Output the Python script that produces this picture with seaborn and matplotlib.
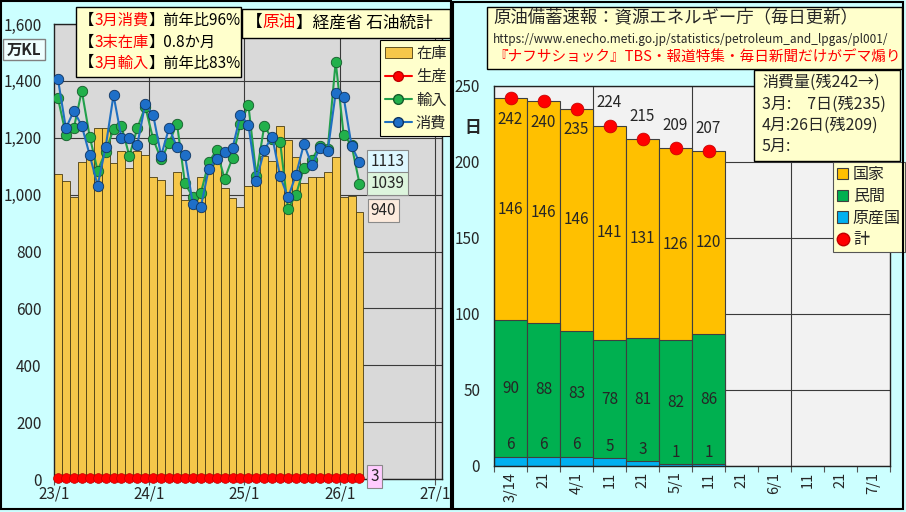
import numpy as np
import matplotlib
matplotlib.use("Agg")
import matplotlib.pyplot as plt
from matplotlib.patches import Rectangle
from matplotlib.lines import Line2D
from matplotlib.text import Annotation
from matplotlib.ticker import FixedLocator
import seaborn as sns

# --- left panel: crude oil monthly (万KL), 23/1 .. 26/3
months = [f"{y}/{m}" for y in (23, 24, 25, 26) for m in range(1, 13)][:39]
stock = [1072, 1047, 990, 1113, 1150, 1236, 1233, 1111, 1154, 1092, 1154, 1139,
         1061, 1052, 999, 1081, 981, 955, 1061, 1100, 1114, 1022, 988, 958,
         1030, 1044, 1137, 1120, 1240, 1192, 1131, 1040, 1061, 1061, 1078, 1133,
         991, 996, 940]
production = [4, 4, 4, 3, 4, 3, 3, 3, 3, 3, 4, 3,
              3, 3, 4, 3, 3, 3, 3, 3, 3, 3, 3, 3,
              3, 3, 3, 3, 3, 3, 3, 3, 3, 3, 3, 3,
              3, 3, 3]
imports = [1339, 1211, 1234, 1365, 1204, 1084, 1151, 1230, 1240, 1136, 1234, 1309,
           1195, 1124, 1182, 1250, 1040, 991, 1005, 1114, 1157, 1055, 1129, 1250,
           1315, 1067, 1242, 1195, 1184, 950, 1000, 1094, 1123, 1172, 1160, 1468,
           1211, 1174, 1039]
consumption = [1406, 1233, 1295, 1242, 1139, 1032, 1166, 1350, 1200, 1200, 1175, 1320,
               1280, 1137, 1234, 1168, 1139, 966, 956, 1090, 1125, 1149, 1164, 1280,
               1246, 1049, 1157, 1204, 1064, 990, 1070, 1178, 1104, 1163, 1154, 1357,
               1344, 1172, 1113]
year_ticks = ["23/1", "24/1", "25/1", "26/1", "27/1"]

# --- right panel: reserve days
dates = ["3/14", "3/21", "4/1", "4/11", "4/21", "5/1", "5/11",
         "5/21", "6/1", "6/11", "6/21", "7/1"]
date_labels = ["3/14", "21", "4/1", "11", "21", "5/1", "11",
               "21", "6/1", "11", "21", "7/1"]
national = [146, 146, 146, 141, 131, 126, 120]
private = [90, 88, 83, 78, 81, 82, 86]
producer = [6, 6, 6, 5, 3, 1, 1]
total = [242, 240, 235, 224, 215, 209, 207]

W, H = 906, 512
CYAN = "#CCFFFF"
NOTE = "#FFFFCC"
RED = "#FF0000"


def fx(x):
    return x / W


def fy(y):
    return 1 - y / H


sns.set_theme(style="white")
plt.rcParams["font.family"] = ["Noto Sans CJK JP", "DejaVu Sans"]
plt.rcParams["axes.unicode_minus"] = False

fig = plt.figure(figsize=(W / 100, H / 100), dpi=100, facecolor=CYAN)


def box(x0, y0, x1, y1, fc=NOTE, ec="black", lw=1.0, fill=True):
    fig.add_artist(Rectangle((fx(x0), fy(y1)), (x1 - x0) / W, (y1 - y0) / H,
                             transform=fig.transFigure, facecolor=fc,
                             edgecolor=ec, linewidth=lw, fill=fill, zorder=1))


def rich(x, y, parts, size):
    t = fig.text(fx(x), fy(y), parts[0][0], color=parts[0][1], fontsize=size,
                 ha="left", va="center", zorder=3)
    for s, c in parts[1:]:
        a = Annotation(s, xy=(1, 0), xycoords=t, ha="left", va="bottom",
                       color=c, fontsize=size, zorder=3)
        fig.add_artist(a)
        t = a


# ================= left chart =================
axL = fig.add_axes([fx(54), fy(479), (442 - 54) / W, (479 - 24) / H])
axL.set_facecolor("#D9D9D9")
axL.set_axisbelow(True)
sns.barplot(x=months, y=stock, order=months, color="#F5C74A", saturation=1,
            width=1.0, edgecolor="#4A3C12", linewidth=0.6, errorbar=None, ax=axL)
xpos = np.arange(len(months))
sns.lineplot(x=xpos, y=production, color=RED, marker="o", markersize=7,
             markeredgecolor="#C00000", markeredgewidth=0.5, linewidth=1.2,
             clip_on=False, zorder=4, ax=axL)
sns.lineplot(x=xpos, y=imports, color="#22A04B", marker="o", markersize=7.5,
             markerfacecolor="#22B04B", markeredgecolor="#145A2A",
             markeredgewidth=0.6, linewidth=1.5, zorder=5, ax=axL)
sns.lineplot(x=xpos, y=consumption, color="#1F6FC0", marker="o", markersize=7.5,
             markerfacecolor="#1E6FC8", markeredgecolor="#0F3460",
             markeredgewidth=0.6, linewidth=1.5, zorder=6, ax=axL)

axL.set_xlim(-0.5, 48.4)
axL.set_ylim(0, 1600)
yt = list(range(0, 1601, 200))
axL.set_yticks(yt)
axL.set_yticklabels([f"{v:,}" for v in yt])
axL.set_xticks([-0.5, 11.5, 23.5, 35.5, 47.5])
axL.set_xticklabels(year_ticks)
axL.set_xlabel("")
axL.set_ylabel("")
axL.yaxis.grid(True, color="#3A3A3A", linewidth=0.8)
for xv in [11.5, 23.5, 35.5, 47.5]:
    axL.axvline(xv, color="#3A3A3A", linewidth=0.8, zorder=0.6)
axL.tick_params(axis="x", length=4, width=0.8, color="#555555", labelsize=11,
                pad=1, bottom=True)
axL.tick_params(axis="y", length=0, labelsize=11, pad=9)
for sp in axL.spines.values():
    sp.set_color("#222222")
    sp.set_linewidth(1.0)

# end labels
axL.annotate(f"{consumption[-1]}", xy=(38, consumption[-1]), xytext=(28, 1),
             textcoords="offset pixels", ha="center", va="center", fontsize=11,
             bbox=dict(boxstyle="square,pad=0.2", fc="#DDF7FF", ec="#8A8A8A", lw=0.8))
axL.annotate(f"{imports[-1]}", xy=(38, imports[-1]), xytext=(28, 0),
             textcoords="offset pixels", ha="center", va="center", fontsize=11,
             bbox=dict(boxstyle="square,pad=0.2", fc="#DDF5DD", ec="#8A8A8A", lw=0.8))
axL.annotate(f"{stock[-1]}", xy=(38, stock[-1]), xytext=(24, 1),
             textcoords="offset pixels", ha="center", va="center", fontsize=11,
             bbox=dict(boxstyle="square,pad=0.2", fc="#FDEBDD", ec="#8A8A8A", lw=0.8))
axL.annotate(f"{production[-1]}", xy=(38, production[-1]), xytext=(15, 2),
             textcoords="offset pixels", ha="center", va="center", fontsize=11,
             annotation_clip=False,
             bbox=dict(boxstyle="square,pad=0.2", fc="#FFCCFF", ec="#8A8A8A", lw=0.8))

handlesL = [Rectangle((0, 0), 1, 1, facecolor="#F5C74A", edgecolor="#4A3C12", lw=0.6),
            Line2D([], [], color=RED, marker="o", markersize=7, markeredgecolor="#C00000"),
            Line2D([], [], color="#22A04B", marker="o", markersize=7,
                   markerfacecolor="#22B04B", markeredgecolor="#145A2A"),
            Line2D([], [], color="#1F6FC0", marker="o", markersize=7,
                   markerfacecolor="#1E6FC8", markeredgecolor="#0F3460")]
legL = axL.legend(handlesL, ["在庫", "生産", "輸入", "消費"], loc="upper left",
                  bbox_to_anchor=(fx(380), fy(40)), bbox_transform=fig.transFigure,
                  borderaxespad=0, fancybox=False, edgecolor="black",
                  facecolor=NOTE, framealpha=1, fontsize=11, labelspacing=0.42,
                  handlelength=1.8, handletextpad=0.25, borderpad=0.3)
legL.get_frame().set_linewidth(0.8)

# left boxes
box(76, 7, 241, 77)
rich(79, 20, [("【", "black"), ("3月消費", RED), ("】前年比96%", "black")], 11)
rich(79, 42, [("【", "black"), ("3末在庫", RED), ("】0.8か月", "black")], 11)
rich(79, 63, [("【", "black"), ("3月輸入", RED), ("】前年比83%", "black")], 11)
box(242, 9, 450, 38)
rich(246, 23, [("【", "black"), ("原油", RED), ("】経産省 石油統計", "black")], 12)
box(3, 39, 45, 60, fc="#EFFFFF", ec="#808080")
fig.text(fx(24), fy(50), "万KL", fontsize=11, fontweight="bold", ha="center",
         va="center", zorder=3)

# ================= right chart =================
axR = fig.add_axes([fx(494), fy(466), (890 - 494) / W, (466 - 86) / H])
axR.set_facecolor("#F2F2F2")
axR.set_axisbelow(True)
stack_top = np.array(producer) + np.array(private) + np.array(national)
stack_mid = np.array(producer) + np.array(private)
bar_kw = dict(order=dates, saturation=1, width=1.0, edgecolor="#3F3F3F",
              linewidth=0.8, errorbar=None, ax=axR)
sns.barplot(x=dates[:7], y=stack_top, color="#FFC000", **bar_kw)
sns.barplot(x=dates[:7], y=stack_mid, color="#00B050", **bar_kw)
sns.barplot(x=dates[:7], y=producer, color="#00B0F0", **bar_kw)
xr = np.arange(len(total))
sns.scatterplot(x=xr, y=total, color=RED, s=85, edgecolor="#C00000",
                linewidth=0.5, zorder=5, clip_on=False, ax=axR)

for i in range(len(total)):
    axR.text(i, stack_mid[i] + national[i] / 2, str(national[i]), ha="center",
             va="center", fontsize=11, zorder=6)
    axR.text(i, producer[i] + private[i] / 2, str(private[i]), ha="center",
             va="center", fontsize=11, zorder=6)
    axR.annotate(str(producer[i]), xy=(i, producer[i]), xytext=(0, 12),
                 textcoords="offset pixels", ha="center", va="center",
                 fontsize=11, zorder=6)
    dy = -21 if i < 3 else 23
    axR.annotate(str(total[i]), xy=(i, total[i]), xytext=(0, dy),
                 textcoords="offset pixels", ha="center", va="center",
                 fontsize=11, zorder=6)

axR.set_xlim(-0.5, 11.5)
axR.set_ylim(0, 250)
axR.set_yticks(range(0, 251, 50))
axR.set_xticks(range(len(dates)))
axR.set_xticklabels(date_labels, rotation=90)
axR.xaxis.set_minor_locator(FixedLocator(np.arange(-0.5, 12, 1)))
axR.set_xlabel("")
axR.set_ylabel("")
axR.yaxis.grid(True, color="#3A3A3A", linewidth=0.8)
for xv in [2.5, 5.5, 8.5]:
    axR.axvline(xv, color="#3A3A3A", linewidth=0.8, zorder=0.6)
axR.tick_params(axis="x", which="major", length=0, labelsize=10.5, pad=4)
axR.tick_params(axis="x", which="minor", length=4, width=0.8, color="#555555",
                bottom=True)
axR.tick_params(axis="y", length=0, labelsize=11, pad=10)
for sp in axR.spines.values():
    sp.set_color("#222222")
    sp.set_linewidth(1.0)

handlesR = [Rectangle((0, 0), 1, 1, facecolor="#FFC000", edgecolor="#3F3F3F", lw=0.8),
            Rectangle((0, 0), 1, 1, facecolor="#00B050", edgecolor="#3F3F3F", lw=0.8),
            Rectangle((0, 0), 1, 1, facecolor="#00B0F0", edgecolor="#3F3F3F", lw=0.8),
            Line2D([], [], linestyle="none", marker="o", markersize=9,
                   markerfacecolor=RED, markeredgecolor="#C00000")]
legR = axR.legend(handlesR, ["国家", "民間", "原産国", "計"], loc="upper left",
                  bbox_to_anchor=(fx(833), fy(162)), bbox_transform=fig.transFigure,
                  borderaxespad=0, fancybox=False, edgecolor="#555555",
                  facecolor=NOTE, framealpha=1, fontsize=11.5, labelspacing=0.3,
                  handlelength=0.7, handleheight=0.7, handletextpad=0.3,
                  borderpad=0.25)
legR.get_frame().set_linewidth(0.8)

fig.text(fx(473), fy(128), "日", fontsize=12, fontweight="bold", ha="center",
         va="center", zorder=3)

box(487, 7, 902, 69)
fig.text(fx(493), fy(17), "原油備蓄速報：資源エネルギー庁（毎日更新）", fontsize=12.5,
         ha="left", va="center", zorder=3)
fig.text(fx(493), fy(39), "https://www.enecho.meti.go.jp/statistics/petroleum_and_lpgas/pl001/",
         fontsize=8.5, ha="left", va="center", zorder=3)
fig.text(fx(493), fy(58), "『ナフサショック』TBS・報道特集・毎日新聞だけがデマ煽り",
         fontsize=10.5, color=RED, ha="left", va="center", zorder=3)

box(754, 70, 900, 161)
for yy, s in [(82, "消費量(残242→)"), (104, "3月:　7日(残235)"),
              (125, "4月:26日(残209)"), (146, "5月:")]:
    fig.text(fx(762), fy(yy), s, fontsize=11.5, ha="left", va="center", zorder=3)

# panel borders
box(1, 1, 451, 509, fill=False, lw=1.5)
box(453, 2, 903, 509, fill=False, lw=1.5)

fig.savefig("out.png", dpi=100, facecolor=CYAN)
